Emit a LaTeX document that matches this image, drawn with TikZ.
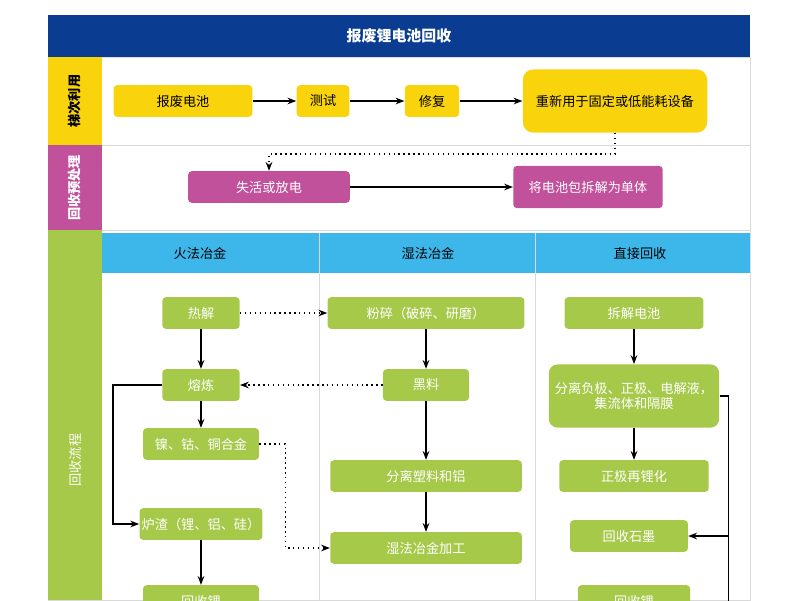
\documentclass[tikz,border=0pt]{standalone}
\usepackage{fontspec}
\setmainfont{Noto Sans CJK SC}
\usetikzlibrary{arrows.meta}
\definecolor{navy}{HTML}{0A3D91}
\definecolor{gold}{HTML}{F9D30B}
\definecolor{plum}{HTML}{C2519C}
\definecolor{lime}{HTML}{A6C94A}
\definecolor{sky}{HTML}{3DB7EA}
\tikzset{
	box/.style={rounded corners=2pt,minimum height=18pt,inner sep=0pt,font=\fontsize{7.5}{9}\selectfont},
	ybox/.style={box,fill=gold,text=black},
	pbox/.style={box,fill=plum,text=white},
	gbox/.style={box,fill=lime,text=white},
	flow/.style={-{Stealth[length=5pt]},thick},
	dots/.style={-{Stealth[length=5pt]},thick,dotted},
}
\begin{document}
\begin{tikzpicture}[x=0.02cm,y=-0.02cm]
	\useasboundingbox (0,0) rectangle (800,600);
	\clip (0,0) rectangle (800,600);
	%BANDS
	\fill[navy] (48,15) rectangle (750,57);
	\node[text=white,font=\fontsize{8.5}{10}\selectfont\bfseries] (title) at (399,36) {报废锂电池回收};
	\draw[gray!30] (48,57) rectangle (750,600);
	\draw[gray!30] (102,145)--(750,145);
	\draw[gray!30] (102,230)--(750,230);
	\fill[gold] (48,57) rectangle (102,145);
	\fill[plum] (48,145) rectangle (102,230);
	\fill[lime] (48,230) rectangle (102,600);
	\node[rotate=90,font=\fontsize{7.5}{9}\selectfont\bfseries] (lab1) at (75,101) {梯次利用};
	\node[rotate=90,text=white,font=\fontsize{7.5}{9}\selectfont\bfseries] (lab2) at (75,188) {回收预处理};
	\node[rotate=90,text=white,font=\fontsize{7.5}{9}\selectfont] (lab3) at (75,460) {回收流程};
	
	%COLUMN HEADERS
	\fill[sky] (102,233) rectangle (750,273);
	\draw[gray!30] (319,233)--(319,600);
	\draw[gray!30] (535,233)--(535,600);
	\node[font=\fontsize{7.5}{9}\selectfont] (h1) at (200,253) {火法冶金};
	\node[font=\fontsize{7.5}{9}\selectfont] (h2) at (428,253) {湿法冶金};
	\node[font=\fontsize{7.5}{9}\selectfont] (h3) at (640,253) {直接回收};
	
	%REUSE ROW
	\node[ybox,minimum width=79pt] (scrap) at (183,101) {报废电池};
	\node[ybox,minimum width=30pt] (test) at (323,101) {测试};
	\node[ybox,minimum width=31pt] (fix) at (432,101) {修复};
	\node[ybox,minimum width=105pt,minimum height=36pt,rounded corners=6pt] (reuse) at (615,101) {重新用于固定或低能耗设备};
	\draw[flow] (scrap)--(test);
	\draw[flow] (test)--(fix);
	\draw[flow] (fix)--(reuse);
	
	%PRETREATMENT ROW
	\node[pbox,minimum width=92pt] (discharge) at (269,187) {失活或放电};
	\node[pbox,minimum width=85pt,minimum height=24pt] (split) at (588,187) {将电池包拆解为单体};
	\draw[dots] (reuse.south)--++(0,21)-|(discharge.north);
	\draw[flow] (discharge)--(split);
	
	%PYRO
	\node[gbox,minimum width=44pt] (pyro) at (201,313) {热解};
	\node[gbox,minimum width=44pt] (smelt) at (201,385) {熔炼};
	\node[gbox,minimum width=66pt] (alloy) at (201,444) {镍、钴、铜合金};
	\node[gbox,minimum width=70pt] (slag) at (201,524) {炉渣（锂、铝、硅）};
	\node[gbox,minimum width=66pt] (lithA) at (201,601) {回收锂};
	\draw[flow] (pyro)--(smelt);
	\draw[flow] (smelt)--(alloy);
	\draw[flow] (smelt.west)--++(-49,0)|-(slag.west);
	\draw[flow] (slag)--(lithA);
	
	%HYDRO
	\node[gbox,minimum width=112pt] (crush) at (426,313) {粉碎（破碎、研磨）};
	\node[gbox,minimum width=49pt] (black) at (426,385) {黑料};
	\node[gbox,minimum width=109pt] (sep) at (426,476) {分离塑料和铝};
	\node[gbox,minimum width=109pt] (hydro) at (426,548) {湿法冶金加工};
	\draw[dots] (pyro)--(crush);
	\draw[flow] (crush)--(black);
	\draw[dots] (black)--(smelt);
	\draw[flow] (black)--(sep);
	\draw[flow] (sep)--(hydro);
	\draw[dots] (alloy.east)--++(26,0)|-(hydro.west);
	
	%DIRECT
	\node[gbox,minimum width=79pt] (dismantle) at (634,313) {拆解电池};
	\node[gbox,minimum width=97pt,minimum height=36pt,align=center,rounded corners=5pt] (parts) at (634,396) {分离负极、正极、电解液，\\集流体和隔膜};
	\node[gbox,minimum width=85pt] (relith) at (634,476) {正极再锂化};
	\node[gbox,minimum width=67pt] (graph) at (629,536) {回收石墨};
	\node[gbox,minimum width=64pt] (lithB) at (634,601) {回收锂};
	\draw[flow] (dismantle)--(parts);
	\draw[flow] (parts)--(relith);
	\draw[flow] (parts.east)--++(9,0)|-(graph.east);
	\draw[thick] (parts.east)++(9,0)--++(0,220);
\end{tikzpicture}
\end{document}
